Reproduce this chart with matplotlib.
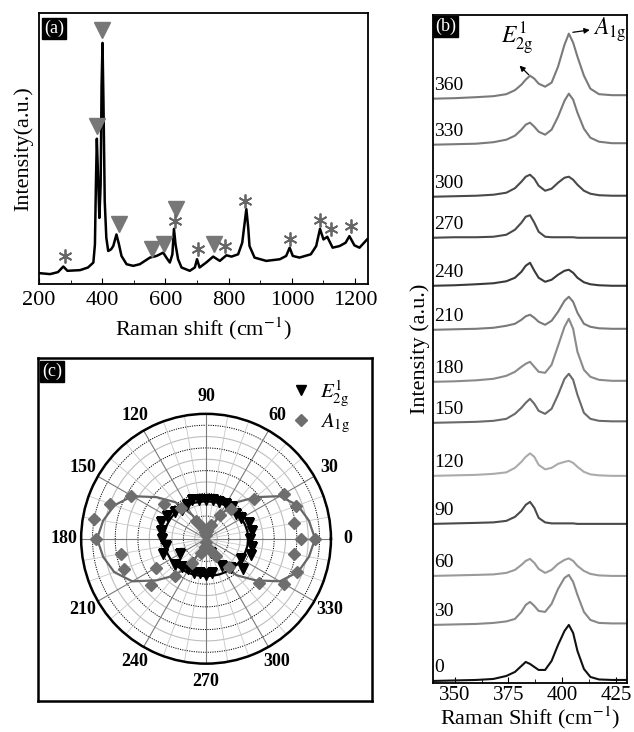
import numpy as np
import matplotlib
matplotlib.use("Agg")
from matplotlib import pyplot as plt

plt.rcParams['font.family'] = ['Liberation Serif', 'DejaVu Serif']
plt.rcParams['mathtext.fontset'] = 'stix'

# ---------- panel (a): full Raman spectrum ----------
shift_a = [200, 235, 260, 277, 290, 330, 355, 372, 377, 380, 383, 387, 391, 395,
           398, 401, 404, 408, 413, 419, 428, 435, 445, 453, 461, 477, 498, 519,
           551, 572, 593, 603, 614, 622, 627, 632, 640, 651, 677, 693, 700, 708,
           729, 751, 772, 793, 809, 830, 843, 850, 856, 862, 866, 882, 919, 962,
           982, 993, 1003, 1024, 1060, 1077, 1089, 1100, 1112, 1129, 1151, 1170,
           1182, 1198, 1214, 1238]
intens_a = [3.3, 3.0, 3.6, 5.3, 4.0, 4.2, 5.0, 6.5, 12, 30, 44, 32, 20, 30,
            60, 73, 55, 25, 14, 10, 10.5, 11.5, 15, 12, 8.5, 6, 5.5, 6,
            8, 8.5, 9.5, 8, 6.5, 9, 16.7, 12, 7.5, 5, 4, 5, 7.5, 5,
            6.5, 8.3, 7, 8.7, 8.3, 9, 12.5, 18, 22.7, 17, 11.5, 8, 7, 7.5,
            8.5, 11, 8.5, 8, 9, 11.5, 16.7, 13.5, 14.3, 11, 11.5, 12.5,
            14.5, 11.7, 11, 13.5]
tri_x = [384, 400, 453, 558, 596, 635, 754]
tri_y = [47.7, 77, 18.3, 10.7, 12.2, 22.7, 12]
star_x = [282, 630, 703, 790, 853, 995, 1090, 1124, 1186]
star_y = [8.5, 19, 10.7, 11.5, 25, 13.5, 19.5, 16.7, 17.5]

# ---------- panel (b): angle resolved spectra ----------
shift_b = [340, 350, 360, 368, 374, 378, 381, 383, 385, 387, 389, 392, 395, 398,
           401, 403, 405, 407, 410, 413, 417, 423, 430]
angles_b = [360, 330, 300, 270, 240, 210, 180, 150, 120, 90, 60, 30, 0]
baselines_b = [58.4, 53.8, 48.6, 44.5, 39.7, 35.3, 30.1, 26.0, 20.7, 15.9, 10.7, 5.8, 0.2]
spec_360 = [0, 0.05, 0.15, 0.25, 0.45, 0.85, 1.4, 1.9, 2.3, 2.0, 1.5, 1.2, 1.6, 3.2, 5.4, 6.5, 5.6, 4.2, 2.3, 1.0, 0.45, 0.35, 0.35]
spec_330 = [0, 0.05, 0.1, 0.25, 0.5, 0.9, 1.5, 2.0, 2.2, 1.8, 1.3, 1.0, 1.5, 2.8, 4.4, 5.1, 4.5, 3.2, 1.6, 0.7, 0.3, 0.15, 0.15]
spec_300 = [0, 0.05, 0.1, 0.2, 0.4, 0.85, 1.5, 2.0, 2.2, 1.8, 1.1, 0.6, 0.8, 1.4, 1.9, 2.0, 1.7, 1.2, 0.6, 0.3, 0.15, 0.1, 0.1]
spec_270 = [0, 0.05, 0.05, 0.1, 0.3, 0.8, 1.5, 2.1, 2.25, 1.5, 0.6, 0.1, 0.05, 0.05, 0.05, 0.05, 0.05, 0, 0, 0, 0, 0, 0]
spec_240 = [0, 0.05, 0.15, 0.25, 0.45, 0.8, 1.4, 2.0, 2.3, 1.5, 0.8, 0.4, 0.6, 1.1, 1.5, 1.6, 1.3, 0.8, 0.35, 0.15, 0.05, 0, 0]
spec_210 = [0, 0.05, 0.1, 0.2, 0.4, 0.6, 1.0, 1.35, 1.5, 1.2, 0.8, 0.5, 0.9, 1.8, 2.9, 3.3, 2.8, 1.7, 0.6, 0.3, 0.15, 0.1, 0.1]
spec_180 = [0, 0.05, 0.15, 0.3, 0.6, 1.0, 1.5, 1.8, 2.0, 1.5, 1.0, 0.9, 1.7, 3.6, 5.5, 6.3, 5.3, 3.0, 1.2, 0.5, 0.2, 0.1, 0.1]
spec_150 = [0, 0.05, 0.1, 0.2, 0.4, 0.9, 1.5, 2.0, 2.4, 1.9, 1.2, 0.9, 1.4, 2.8, 4.4, 4.9, 4.3, 2.8, 1.0, 0.4, 0.2, 0.15, 0.15]
spec_120 = [0, 0.05, 0.1, 0.2, 0.35, 0.8, 1.4, 1.9, 2.25, 1.9, 1.1, 0.65, 0.8, 1.2, 1.4, 1.5, 1.3, 0.9, 0.4, 0.15, 0.05, 0, 0]
spec_90 = [0, 0.05, 0.1, 0.15, 0.3, 0.7, 1.3, 1.9, 2.2, 1.6, 0.6, 0.15, 0.05, 0.05, 0.05, 0.05, 0.05, 0, 0, 0, 0, 0, 0]
spec_60 = [0, 0.05, 0.1, 0.15, 0.3, 0.6, 1.1, 1.5, 1.7, 1.3, 0.7, 0.3, 0.6, 1.2, 1.6, 1.75, 1.5, 1.0, 0.5, 0.2, 0.05, 0, 0]
spec_30 = [0, 0.05, 0.1, 0.2, 0.35, 0.6, 1.3, 2.0, 2.3, 1.9, 1.4, 1.3, 2.1, 3.6, 4.7, 5.0, 4.3, 3.0, 1.3, 0.5, 0.2, 0.15, 0.15]
spec_0 = [0, 0.05, 0.1, 0.2, 0.5, 0.9, 1.5, 1.9, 1.7, 1.4, 1.1, 1.1, 2.0, 3.6, 5.0, 5.6, 4.8, 3.0, 1.2, 0.4, 0.15, 0.1, 0.1]
spectra_b = [spec_360, spec_330, spec_300, spec_270, spec_240, spec_210, spec_180,
             spec_150, spec_120, spec_90, spec_60, spec_30, spec_0]
colors_b = ['#7a7a7a', '#7a7a7a', '#4a4a4a', '#4a4a4a', '#3a3a3a', '#7a7a7a', '#8a8a8a',
            '#6a6a6a', '#ababab', '#4a4a4a', '#9a9a9a', '#888888', '#111111']

# ---------- panel (c): polar intensities ----------
a1g_angles = list(range(0, 370, 10))
a1g_vals = [0.96, 0.79, 0.84, 0.79, 0.55, 0.34, 0.24, 0.13, 0.07, 0.03, 0.06, 0.11, 0.18,
            0.35, 0.48, 0.76, 0.90, 1.00, 0.97, 0.76, 0.77, 0.51, 0.63, 0.43, 0.25, 0.13,
            0.07, 0.03, 0.07, 0.11, 0.18, 0.32, 0.61, 0.79, 0.85, 0.79, 0.84]
a1g_fit = [0.96, 0.92, 0.86, 0.75, 0.57, 0.42, 0.24, 0.09, 0.0, 0.0, 0.0, 0.09, 0.24,
           0.42, 0.57, 0.75, 0.86, 0.92, 0.96, 0.92, 0.86, 0.75, 0.57, 0.42, 0.24, 0.09,
           0.0, 0.0, 0.0, 0.09, 0.24, 0.42, 0.57, 0.75, 0.86, 0.92, 0.96]
e2g_angles = list(range(0, 360, 10))
e2g_vals = [0.39, 0.41, 0.40, 0.36, 0.34, 0.36, 0.35, 0.34, 0.35, 0.34, 0.35, 0.36,
            0.34, 0.33, 0.36, 0.40, 0.42, 0.40, 0.39, 0.36, 0.40, 0.26, 0.36, 0.33,
            0.31, 0.32, 0.31, 0.32, 0.31, 0.13, 0.28, 0.34, 0.42, 0.36, 0.42, 0.41]
e2g_fit = [0.37, 0.37, 0.365, 0.36, 0.355, 0.345, 0.34, 0.335, 0.33, 0.33, 0.33, 0.335,
           0.34, 0.345, 0.355, 0.36, 0.365, 0.37, 0.37, 0.37, 0.365, 0.36, 0.355, 0.345,
           0.34, 0.335, 0.33, 0.33, 0.33, 0.335, 0.34, 0.345, 0.355, 0.36, 0.365, 0.37, 0.37]
e2g_fit_angles = list(range(0, 370, 10))
polar_labels = ['0', '30', '60', '90', '120', '150', '180', '210', '240', '270', '300', '330']

fig = plt.figure(figsize=(6.34, 7.32), dpi=100)

def panel_tag(ax, s, x, y):
    ax.text(x, y, s, transform=ax.transAxes, color='white', fontsize=13,
            ha='left', va='top',
            bbox=dict(facecolor='black', edgecolor='black', pad=1.2))

# (a)
ax_a = fig.add_axes([0.0615, 0.612, 0.5185, 0.370])
ax_a.plot(shift_a, intens_a, color='black', lw=1.8)
ax_a.plot(tri_x, tri_y, 'v', color='#777777', ms=11, ls='none')
ax_a.plot(star_x, star_y, marker=(6, 2, 0), color='#666666', ms=10, mew=1.3, ls='none')
ax_a.set_xlim(200, 1240)
ax_a.set_ylim(0, 82)
ax_a.set_xticks([200, 400, 600, 800, 1000, 1200])
ax_a.set_xticks(range(300, 1240, 200), minor=True)
ax_a.set_yticks([])
ax_a.tick_params(axis='x', direction='in', labelsize=16, length=4, pad=5)
ax_a.tick_params(axis='x', which='minor', direction='in', length=3)
ax_a.set_xlabel(r'Raman shift (cm$^{-1}$)', fontsize=16, labelpad=4)
ax_a.set_ylabel('Intensity(a.u.)', fontsize=16, labelpad=4)
for s in ax_a.spines.values():
    s.set_linewidth(1.3)
panel_tag(ax_a, '(a)', 0.015, 0.975)

# (b)
ax_b = fig.add_axes([0.683, 0.067, 0.306, 0.913])
for ang, base, spec, col in zip(angles_b, baselines_b, spectra_b, colors_b):
    ax_b.plot(shift_b, np.array(spec) + base, color=col, lw=1.5)
    ax_b.text(340.5, base + 0.5, str(ang), fontsize=14, ha='left', va='bottom')
ax_b.set_xlim(340, 430)
ax_b.set_ylim(0, 66.8)
ax_b.set_xticks([350, 375, 400, 425])
ax_b.set_xticks([362.5, 387.5, 412.5], minor=True)
ax_b.set_yticks([])
ax_b.tick_params(axis='x', direction='in', labelsize=15, length=4, pad=2)
ax_b.tick_params(axis='x', which='minor', direction='in', length=3)
ax_b.set_xlabel(r'Raman Shift (cm$^{-1}$)', fontsize=16, labelpad=0)
ax_b.set_ylabel('Intensity (a.u.)', fontsize=16, labelpad=2)
for s in ax_b.spines.values():
    s.set_linewidth(1.3)
panel_tag(ax_b, '(b)', 0.01, 0.995)
ax_b.annotate('', xy=(379.2, 61.9), xytext=(385.3, 60.6),
              arrowprops=dict(arrowstyle='-|>', color='black', lw=0.9, mutation_scale=8))
ax_b.text(371.5, 62.6, r'$E^{1}_{\mathrm{2g}}$', fontsize=17, ha='left', va='bottom')
ax_b.annotate('', xy=(414.0, 65.3), xytext=(403.6, 65.0),
              arrowprops=dict(arrowstyle='-|>', color='black', lw=0.9, mutation_scale=8))
ax_b.text(414.3, 63.9, r'$A_{\mathrm{1g}}$', fontsize=17, ha='left', va='bottom')

# (c) frame
ax_c = fig.add_axes([0.060, 0.042, 0.527, 0.469])
ax_c.set_xticks([])
ax_c.set_yticks([])
for s in ax_c.spines.values():
    s.set_linewidth(1.8)
panel_tag(ax_c, '(c)', 0.012, 0.985)

ax_p = fig.add_axes([0.128, 0.093, 0.394, 0.342], projection='polar')
ax_p.set_ylim(0, 1.1)
ax_p.grid(False)
full = np.linspace(0, 2 * np.pi, 361)
for k in range(1, 11):
    r = k / 10
    if k % 2 == 0:
        ax_p.plot(full, np.full_like(full, r), color='black', lw=0.7, ls=(0, (1.2, 1.2)), zorder=1)
    else:
        ax_p.plot(full, np.full_like(full, r), color='#bdbdbd', lw=0.8, zorder=1)
for d in range(0, 360, 10):
    t = np.deg2rad(d)
    if d % 30 == 0:
        ax_p.plot([t, t], [0, 1.1], color='#7a7a7a', lw=0.8, zorder=1)
    else:
        ax_p.plot([t, t], [0, 1.1], color='#c8c8c8', lw=0.6, zorder=1)
ax_p.plot(np.deg2rad(a1g_angles), a1g_fit, color='#666666', lw=1.6, zorder=2)
ax_p.plot(np.deg2rad(e2g_fit_angles), e2g_fit, color='black', lw=1.6, zorder=2)
ax_p.plot(np.deg2rad(e2g_angles), e2g_vals, 'v', color='black', ms=7, ls='none',
          zorder=3, label=r'$E^{1}_{\mathrm{2g}}$')
ax_p.plot(np.deg2rad(a1g_angles), a1g_vals, 'D', color='#6e6e6e', ms=6, ls='none',
          zorder=3, label=r'$A_{\mathrm{1g}}$')
ax_p.set_xticks(np.deg2rad(range(0, 360, 30)))
ax_p.set_xticklabels(polar_labels, fontsize=13, fontweight='bold')
ax_p.set_yticks([])
ax_p.tick_params(axis='x', pad=2)
ax_p.spines['polar'].set_linewidth(1.8)
ax_p.legend(loc='upper right', bbox_to_anchor=(0.575, 0.503), bbox_transform=fig.transFigure,
            frameon=False, fontsize=15, handlelength=0.8, handletextpad=0.5,
            labelspacing=0.2, borderpad=0.2)

fig.savefig('out.png', dpi=100)
